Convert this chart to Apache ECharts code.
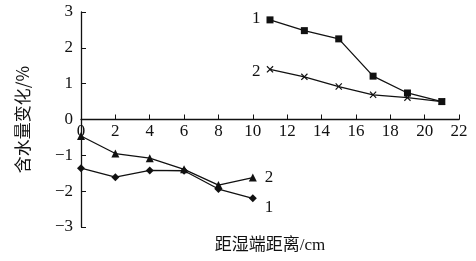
<!DOCTYPE html>
<html>
<head>
<meta charset="utf-8">
<script src="https://cdn.jsdelivr.net/npm/echarts@6/dist/echarts.min.js"></script>
<style>
  html, body { margin: 0; padding: 0; background: #fff; }
  #chart { width: 476px; height: 261px; }
</style>
</head>
<body>
<div id="chart"></div>
<script>
// 左段（0~10 cm）
const leftX = [0, 2, 4, 6, 8, 10];
const left1 = [-1.36, -1.61, -1.42, -1.43, -1.94, -2.2];
const left2 = [-0.46, -0.95, -1.08, -1.39, -1.83, -1.62];
// 右段（11~21 cm）
const rightX = [11, 13, 15, 17, 19, 21];
const right1 = [2.78, 2.48, 2.25, 1.21, 0.74, 0.5];
const right2 = [1.4, 1.19, 0.92, 0.69, 0.61, 0.5];

const serif = "Liberation Serif";
const ink = "#111";

const chart = echarts.init(document.getElementById("chart"));

// 把某一点的标签打开，显示曲线编号
const build = (xs, ys, labelIdx, labelOpt) =>
  xs.map((x, i) => {
    if (i !== labelIdx) return [x, ys[i]];
    return { value: [x, ys[i]], label: Object.assign({ show: true }, labelOpt) };
  });

const crossPath = "path://M0,1.2L1.2,0L5,3.8L8.8,0L10,1.2L6.2,5L10,8.8L8.8,10L5,6.2L1.2,10L0,8.8L3.8,5Z";

const labelBase = {
  formatter: (p) => p.seriesName,
  color: ink,
  fontFamily: serif,
  fontSize: 17,
};

const lineSeries = (name, data, symbol, size) => ({
  name: name,
  type: "line",
  data: data,
  symbol: symbol,
  symbolSize: size,
  showAllSymbol: true,
  lineStyle: { color: ink, width: 1.3 },
  itemStyle: { color: ink },
  label: { show: false },
  animation: false,
});

chart.setOption({
  animation: false,
  grid: { left: 81, right: 17, top: 12, bottom: 34, containLabel: false, outerBoundsMode: "none" },
  xAxis: {
    type: "value",
    min: 0,
    max: 22,
    interval: 2,
    // 横轴画在 y=0 处
    offset: -107.5,
    name: "距湿端距离/cm",
    nameLocation: "middle",
    nameGap: 118,
    nameTextStyle: {
      color: ink,
      fontSize: 17,
      fontFamily: "Liberation Serif, Noto Sans CJK SC",
    },
    axisLine: { onZero: false, lineStyle: { color: ink, width: 1.3 } },
    axisTick: { inside: true, length: 5, lineStyle: { color: ink } },
    axisLabel: { color: ink, fontSize: 17, fontFamily: serif, margin: 4 },
    splitLine: { show: false },
  },
  yAxis: {
    type: "value",
    min: -3,
    max: 3,
    interval: 1,
    name: "含水量变化/%",
    nameLocation: "middle",
    nameGap: 50,
    nameRotate: 90,
    nameTextStyle: {
      color: ink,
      fontSize: 17,
      fontFamily: "Noto Sans CJK SC, Liberation Serif",
    },
    axisLine: { show: true, onZero: false, lineStyle: { color: ink, width: 1.3 } },
    axisTick: { show: true, inside: true, length: 5, lineStyle: { color: ink } },
    axisLabel: {
      color: ink,
      fontSize: 17,
      fontFamily: serif,
      margin: 8,
      formatter: (v) => String(v).replace("-", "\u2212"),
    },
    splitLine: { show: false },
  },
  series: [
    lineSeries("1", build(leftX, left1, 5, Object.assign({}, labelBase, { position: "right", offset: [3, 9] })), "diamond", 8),
    lineSeries("2", build(leftX, left2, 5, Object.assign({}, labelBase, { position: "right", offset: [3, 0] })), "triangle", 8),
    lineSeries("1", build(rightX, right1, 0, Object.assign({}, labelBase, { position: "left", offset: [-1, -1] })), "rect", 7),
    lineSeries("2", build(rightX, right2, 0, Object.assign({}, labelBase, { position: "left", offset: [-1, 2] })), crossPath, 7),
  ],
});
</script>
</body>
</html>
